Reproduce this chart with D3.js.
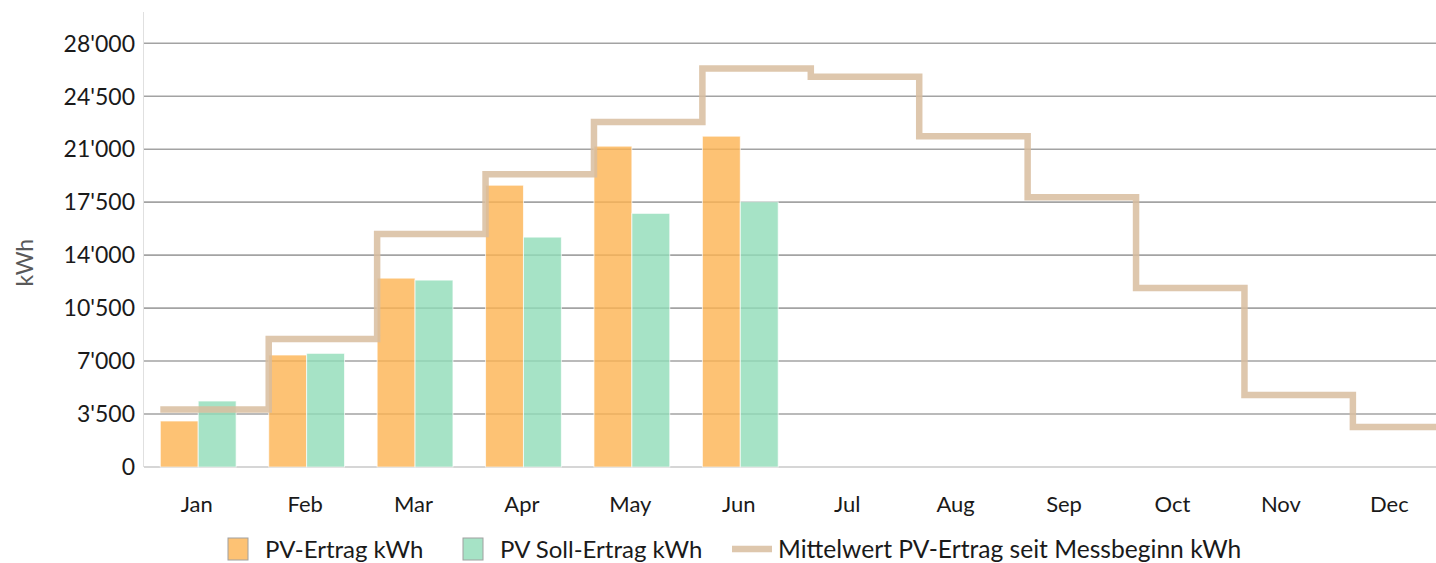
<!DOCTYPE html>
<html>
<head>
<meta charset="utf-8">
<script src="https://cdn.jsdelivr.net/npm/d3@7"></script>
<style>
  body { margin: 0; background: #fff; }
  svg { font-family: Lato, "Open Sans", sans-serif; }
</style>
</head>
<body>
<svg id="chart" width="1436" height="563"></svg>
<script>
// chart data
const months = ["Jan", "Feb", "Mar", "Apr", "May", "Jun", "Jul", "Aug", "Sep", "Oct", "Nov", "Dec"];
const ertrag = [3040, 7400, 12480, 18620, 21200, 21860, null, null, null, null, null, null];
const sollErtrag = [4360, 7510, 12350, 15190, 16760, 17520, null, null, null, null, null, null];
const mittelwert = [3800, 8450, 15390, 19350, 22800, 26330, 25780, 21860, 17830, 11820, 4750, 2640];
const yTicks = [0, 3500, 7000, 10500, 14000, 17500, 21000, 24500, 28000];
const seriesNames = ["PV-Ertrag kWh", "PV Soll-Ertrag kWh", "Mittelwert PV-Ertrag seit Messbeginn kWh"];

const colors = { ertrag: "#fdb351", soll: "#90dcb8", line: "#d8bd9f" };

const svg = d3.select("#chart");
const margin = { top: 13, left: 144, right: -9, bottom: 96 };
const width = 1436, height = 563;
const plotBottom = height - margin.bottom; // 467

const x0 = d3.scaleBand()
    .domain(months)
    .range([margin.left, width - margin.right])
    .padding(0);

const x1 = d3.scaleBand()
    .domain(["ertrag", "soll"])
    .range([0, x0.bandwidth()])
    .paddingInner(0)
    .paddingOuter(0.43);

const y = d3.scaleLinear()
    .domain([0, 30000])
    .range([plotBottom, margin.top]);

const fmt = v => d3.format(",")(v).replace(/,/g, "'");

svg.append("defs").append("clipPath").attr("id", "plot-clip")
    .append("rect")
    .attr("x", margin.left).attr("y", 0)
    .attr("width", width - margin.left).attr("height", plotBottom + 5);

// gridlines
svg.append("g")
    .selectAll("line")
    .data(yTicks)
    .join("line")
    .attr("x1", margin.left)
    .attr("x2", width)
    .attr("y1", d => y(d))
    .attr("y2", d => y(d))
    .attr("stroke", d => d === 0 ? "#c8c8c8" : "#a3a3a3")
    .attr("stroke-width", 1.6);

// left axis line
svg.append("line")
    .attr("x1", margin.left - 0.5).attr("x2", margin.left - 0.5)
    .attr("y1", margin.top - 1).attr("y2", plotBottom)
    .attr("stroke", "#e0e0e0")
    .attr("stroke-width", 1);

// y tick labels
svg.append("g")
    .selectAll("text")
    .data(yTicks)
    .join("text")
    .attr("x", margin.left - 9)
    .attr("y", d => y(d))
    .attr("dy", "0.36em")
    .attr("text-anchor", "end")
    .attr("fill", "#1a1a1a")
    .style("font-size", "23px")
    .text(d => fmt(d));

// y axis title
svg.append("text")
    .attr("transform", `translate(33, ${y(13500)}) rotate(-90)`)
    .attr("text-anchor", "middle")
    .attr("fill", "#595959")
    .style("font-size", "23px")
    .text("kWh");

// bars
const barData = [];
months.forEach((m, i) => {
    if (ertrag[i] != null) barData.push({ month: m, key: "ertrag", value: ertrag[i] });
    if (sollErtrag[i] != null) barData.push({ month: m, key: "soll", value: sollErtrag[i] });
});

svg.append("g")
    .selectAll("rect")
    .data(barData)
    .join("rect")
    .attr("x", d => x0(d.month) + x1(d.key))
    .attr("y", d => y(d.value))
    .attr("width", x1.bandwidth())
    .attr("height", d => plotBottom - y(d.value))
    .attr("fill", d => d.key === "ertrag" ? colors.ertrag : colors.soll)
    .attr("fill-opacity", 0.8)
    .attr("stroke", "rgba(255,255,255,0.7)")
    .attr("stroke-width", 1);

// step line for long-term average
const stepPts = mittelwert.map((v, i) => [x0(months[i]) + x1("ertrag"), y(v)]);
const last = stepPts[stepPts.length - 1];
stepPts.push([last[0] + x0.step(), last[1]]);

svg.append("path")
    .datum(stepPts)
    .attr("clip-path", "url(#plot-clip)")
    .attr("fill", "none")
    .attr("stroke", colors.line)
    .attr("stroke-opacity", 0.85)
    .attr("stroke-width", 6.5)
    .attr("d", d3.line().curve(d3.curveStepAfter));

// x labels
svg.append("g")
    .selectAll("text")
    .data(months)
    .join("text")
    .attr("x", d => x0(d) + x0.bandwidth() / 2 - 1.5)
    .attr("y", 512)
    .attr("text-anchor", "middle")
    .attr("fill", "#1a1a1a")
    .style("font-size", "22px")
    .text(d => d);

// legend
const legend = svg.append("g");
const legendItems = [
    { name: seriesNames[0], type: "box", color: colors.ertrag, x: 228 },
    { name: seriesNames[1], type: "box", color: colors.soll, x: 463 },
    { name: seriesNames[2], type: "line", color: colors.line, x: 732 }
];
legendItems.forEach(item => {
    const g = legend.append("g").attr("transform", `translate(${item.x}, 0)`);
    if (item.type === "box") {
        g.append("rect")
            .attr("x", 0).attr("y", 538)
            .attr("width", 20).attr("height", 22)
            .attr("fill", item.color)
            .attr("fill-opacity", 0.8)
            .attr("stroke", "#a0a0a0")
            .attr("stroke-width", 1);
        g.append("text")
            .attr("x", 37).attr("y", 558)
            .attr("fill", "#1a1a1a")
            .style("font-size", "24px")
            .text(item.name);
    } else {
        g.append("line")
            .attr("x1", 0).attr("x2", 40)
            .attr("y1", 549).attr("y2", 549)
            .attr("stroke", item.color)
            .attr("stroke-opacity", 0.85)
            .attr("stroke-width", 6.5);
        g.append("text")
            .attr("x", 46).attr("y", 558)
            .attr("fill", "#1a1a1a")
            .style("font-size", "24.6px")
            .text(item.name);
    }
});
</script>
</body>
</html>
